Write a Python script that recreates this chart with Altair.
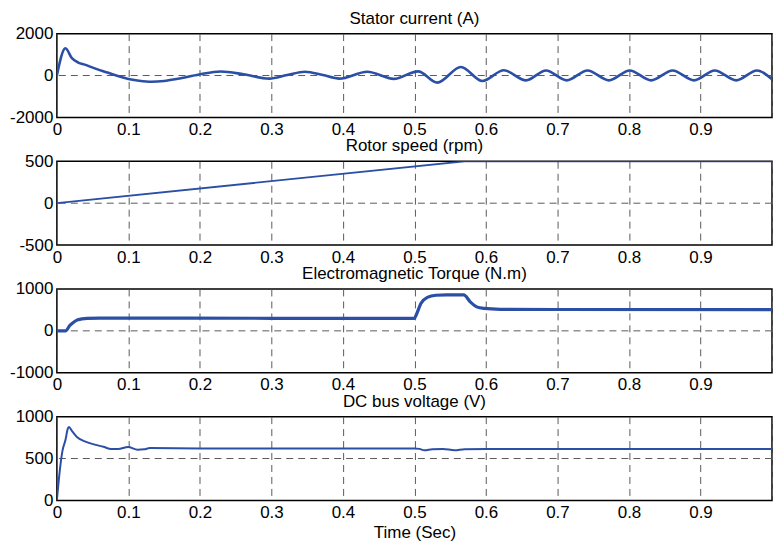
import altair as alt
import pandas as pd

BLUE = "#2c4fa6"
GRID = "#5a5a5a"
FONT = "Liberation Sans"

x_ticks = [0, 0.1, 0.2, 0.3, 0.4, 0.5, 0.6, 0.7, 0.8, 0.9, 1.0]

# Stator current (A)
cur_t = [0, 0.012, 0.021, 0.030, 0.039, 0.053, 0.072, 0.090, 0.100, 0.115,
         0.132, 0.150, 0.169, 0.199, 0.229, 0.261, 0.297, 0.322, 0.347, 0.372,
         0.395, 0.434, 0.471, 0.505, 0.532, 0.565, 0.595, 0.625, 0.656, 0.684,
         0.713, 0.742, 0.772, 0.801, 0.831, 0.861, 0.891, 0.920, 0.950, 0.979, 1.0]
cur_v = [0, 1300, 830, 620, 520, 340, 130, -75, -170, -250,
         -296, -260, -155, 50, 190, 60, -150, 20, 180, 20,
         -150, 180, -160, 200, -340, 410, -260, 250, -230, 240,
         -230, 240, -230, 240, -230, 240, -230, 240, -230, 240, -180]

# Rotor speed (rpm)
spd_t = [0, 0.57, 1.0]
spd_v = [0, 500, 500]

# Electromagnetic torque (N.m)
trq_t = [0, 0.012, 0.0185, 0.023, 0.028, 0.035, 0.042, 0.06, 0.3, 0.5,
         0.503, 0.509, 0.518, 0.530, 0.545, 0.569, 0.578, 0.587, 0.597, 0.62,
         0.7, 1.0]
trq_v = [0, 0, 136, 200, 256, 285, 300, 305, 300, 300,
         400, 655, 798, 850, 860, 860, 693, 573, 535, 515,
         510, 505]

# DC bus voltage (V)
dc_t = [0, 0.004, 0.008, 0.012, 0.0153, 0.017, 0.021, 0.028, 0.039, 0.053,
        0.065, 0.076, 0.0856, 0.0995, 0.113, 0.122, 0.13, 0.2, 0.5, 0.507,
        0.514, 0.525, 0.540, 0.556, 0.570, 0.6, 1.0]
dc_v = [0, 350, 600, 720, 857, 877, 829, 757, 705, 666,
        640, 614, 614, 638, 606, 610, 625, 620, 620, 615,
        598, 612, 615, 598, 612, 615, 615]


def panel(t, v, title, ydom, yticks, grid_y, sw, interp="monotone", last=False):
    df = pd.DataFrame({"t": t, "v": v})
    xaxis = alt.Axis(values=x_ticks, labelExpr="datum.value >= 1 ? '' : datum.label",
                     format="~g", grid=True, gridColor=GRID,
                     gridDash=[7, 5], gridWidth=1, ticks=False, domain=False,
                     labelFlush=False, labelOverlap=False, labelPadding=4,
                     title="Time (Sec)" if last else None,
                     titleFontSize=17, titleFontWeight="normal", titleFont=FONT,
                     titleColor="black", titlePadding=4)
    yaxis = alt.Axis(values=yticks, labelExpr="'' + datum.value", grid=False, ticks=False,
                     domain=False, labelFlush=False, labelOverlap=False,
                     labelPadding=4, title=None)
    x = alt.X("t:Q", scale=alt.Scale(domain=[0, 1], nice=False, zero=False), axis=xaxis)
    y = alt.Y("v:Q", scale=alt.Scale(domain=ydom, nice=False, zero=False), axis=yaxis)
    gdf = pd.DataFrame({"v": [grid_y]})
    rule = alt.Chart(gdf).mark_rule(color=GRID, strokeDash=[7, 5], strokeWidth=1).encode(y=y)
    line = alt.Chart(df).mark_line(color=BLUE, strokeWidth=sw, interpolate=interp,
                                   clip=True).encode(x=x, y=y)
    return alt.layer(rule, line).properties(
        width=717, height=84,
        title=alt.TitleParams(title, fontSize=17, font=FONT, fontWeight="normal",
                              color="black", offset=-3, anchor="middle"))


p1 = panel(cur_t, cur_v, "Stator current (A)", [-2000, 2000], [-2000, 0, 2000], 0, 2.6)
p2 = panel(spd_t, spd_v, "Rotor speed (rpm)", [-500, 500], [-500, 0, 500], 0, 1.8, interp="linear")
p3 = panel(trq_t, trq_v, "Electromagnetic Torque (N.m)", [-1000, 1000], [-1000, 0, 1000], 0, 3.2)
p4 = panel(dc_t, dc_v, "DC bus voltage (V)", [0, 1000], [0, 500, 1000], 500, 2, last=True)

chart = alt.vconcat(p1, p2, p3, p4, spacing=44, bounds="flush").properties(
    padding={"left": 0, "top": 0, "right": 0, "bottom": 0}
).configure_view(stroke="black", strokeWidth=1.5).configure_axis(
    labelFont=FONT, labelFontSize=17, labelColor="black"
).configure_title(font=FONT)

chart.save("out.html", embed_options={"renderer": "svg", "actions": False})
